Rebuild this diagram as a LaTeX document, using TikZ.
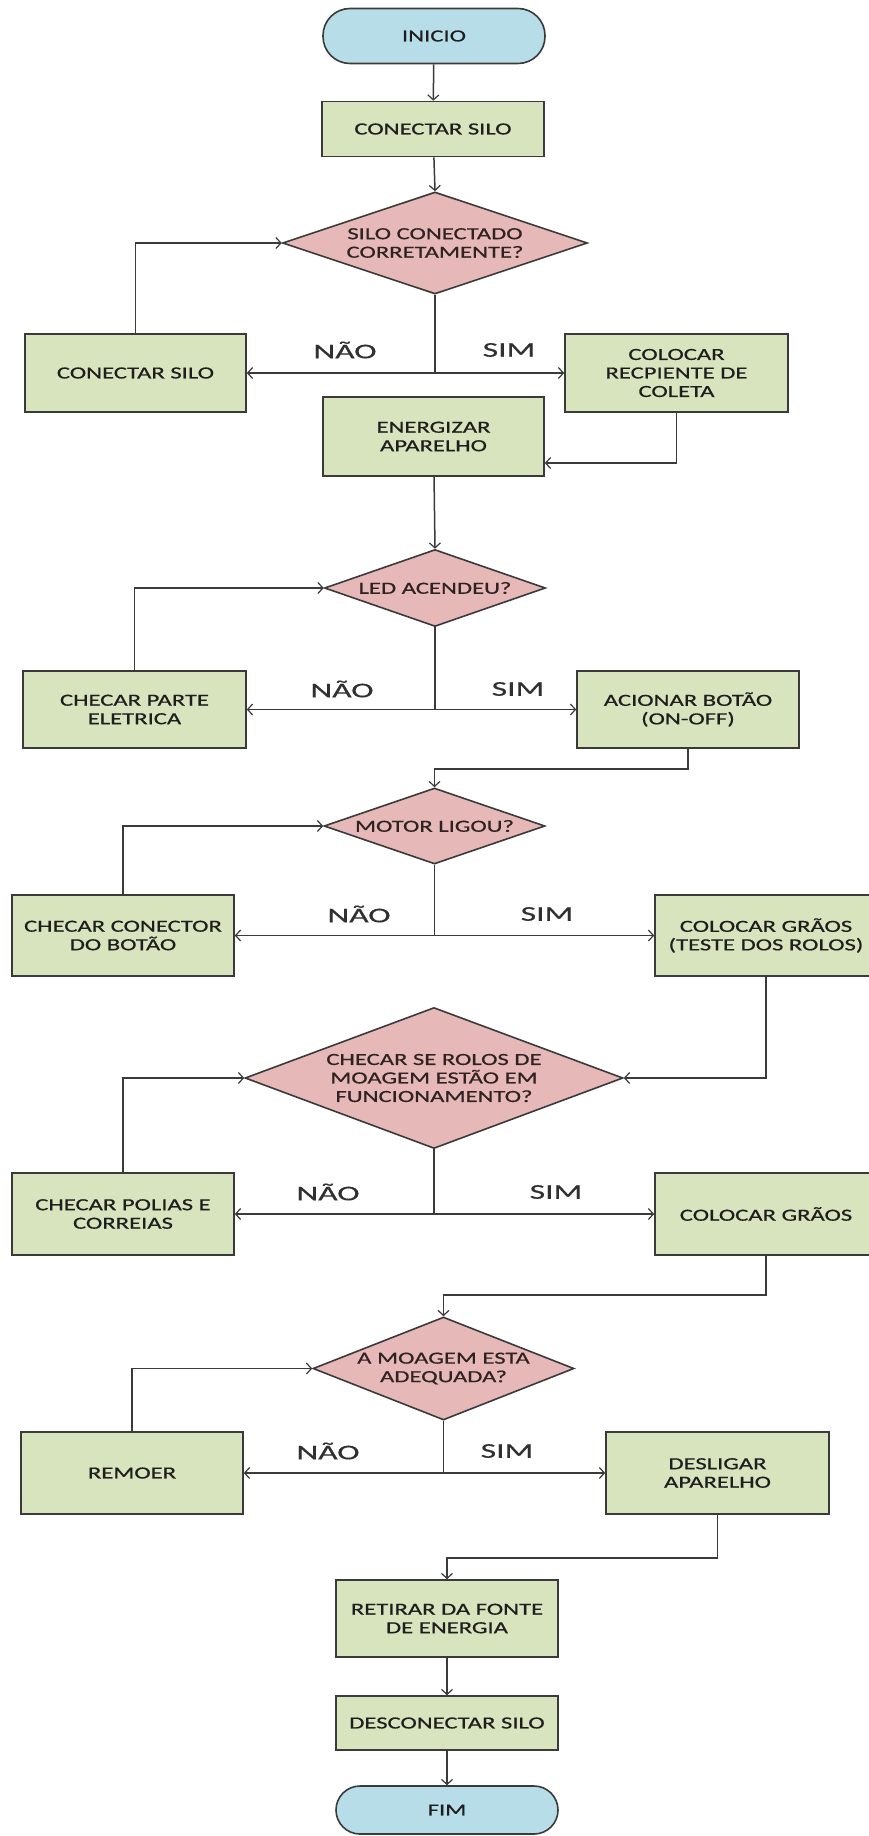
\documentclass[tikz,border=0pt]{standalone}
\usepackage{fontspec}
\setmainfont{Carlito}[FakeStretch=1.45,FakeBold=0.6]
\newfontfamily\lblfont{Carlito}[FakeStretch=1.6,FakeBold=0.4]
\usetikzlibrary{shapes.geometric,arrows.meta,calc}
\definecolor{boxfill}{HTML}{D7E4BD}
\definecolor{diafill}{HTML}{E6B9B8}
\definecolor{termfill}{HTML}{B7DEE8}
\definecolor{edgec}{HTML}{3A3A3A}
\definecolor{ink}{HTML}{1E1E1E}
\definecolor{dink}{HTML}{2E2222}
\definecolor{lblink}{HTML}{303030}
\begin{document}
\begin{tikzpicture}[x=1pt,y=-1pt,
  txt/.style={font=\fontsize{17}{18.5}\selectfont, text=ink, align=center},
  procbox/.style={txt, draw=edgec, line width=1.6pt, fill=boxfill, minimum width=222pt, inner sep=0pt},
  termbox/.style={txt, draw=edgec, line width=1.6pt, fill=termfill, minimum width=222pt, inner sep=0pt},
  decbox/.style={diamond, draw=edgec, line width=1.6pt, fill=diafill, inner sep=0pt},
  dtext/.style={txt, text=dink},
  yn/.style={font=\lblfont\fontsize{21}{23}\selectfont, text=lblink},
  conn/.style={draw=edgec, line width=1.5pt},
  arr/.style={conn, -{Straight Barb[length=5pt,width=11pt,line width=1.2pt]}},
]
\useasboundingbox (0,0) rectangle (869,1836);
\clip (0,0) rectangle (869,1836);
\fill[white] (0,0) rectangle (869,1836);

% main column
\node[termbox, minimum height=55pt, rounded corners=27pt] (ini) at (434,36) {INICIO};
\node[procbox, minimum height=55pt] (c1) at (433,129) {CONECTAR SILO};
\node[decbox, minimum width=305pt, minimum height=102pt] (d1) at (435,243) {};
\node[dtext] (d1t) at (d1.center) {SILO CONECTADO\\CORRETAMENTE?};
\node[procbox, minimum width=221pt, minimum height=78pt] (l1) at (135.5,373) {CONECTAR SILO};
\node[procbox, minimum width=223pt, minimum height=78pt] (r1) at (676.5,373) {COLOCAR\\RECPIENTE DE\\COLETA};
\node[procbox, minimum width=221pt, minimum height=79pt] (en) at (433.5,436.5) {ENERGIZAR\\APARELHO};
\node[decbox, minimum width=221pt, minimum height=77pt] (d2) at (435,588) {};
\node[dtext] (d2t) at (d2.center) {LED ACENDEU?};
\node[procbox, minimum width=223pt, minimum height=77pt] (l2) at (134.5,709.5) {CHECAR PARTE\\ELETRICA};
\node[procbox, minimum width=222pt, minimum height=77pt] (r2) at (688,709.5) {ACIONAR BOTÃO\\(ON-OFF)};
\node[decbox, minimum width=221pt, minimum height=76pt] (d3) at (434.5,826) {};
\node[dtext] (d3t) at (d3.center) {MOTOR LIGOU?};
\node[procbox, minimum width=222pt, minimum height=81pt] (l3) at (123,935.5) {CHECAR CONECTOR\\DO BOTÃO};
\node[procbox, minimum width=222pt, minimum height=81pt] (r3) at (766,935.5) {COLOCAR GRÃOS\\(TESTE DOS ROLOS)};
\node[decbox, minimum width=378pt, minimum height=141pt] (d4) at (434,1078) {};
\node[dtext] (d4t) at (d4.center) {CHECAR SE ROLOS DE\\MOAGEM ESTÃO EM\\FUNCIONAMENTO?};
\node[procbox, minimum width=222pt, minimum height=82pt] (l4) at (123,1214) {CHECAR POLIAS E\\CORREIAS};
\node[procbox, minimum width=222pt, minimum height=82pt] (r4) at (766,1214) {COLOCAR GRÃOS};
\node[decbox, minimum width=261pt, minimum height=103pt] (d5) at (443.5,1368.5) {};
\node[dtext] (d5t) at (d5.center) {A MOAGEM ESTA\\ADEQUADA?};
\node[procbox, minimum width=222pt, minimum height=82pt] (l5) at (132,1473) {REMOER};
\node[procbox, minimum width=223pt, minimum height=82pt] (r5) at (717.5,1473) {DESLIGAR\\APARELHO};
\node[procbox, minimum width=222pt, minimum height=77pt] (ret) at (447,1618.5) {RETIRAR DA FONTE\\DE ENERGIA};
\node[procbox, minimum width=222pt, minimum height=54pt] (des) at (447,1723) {DESCONECTAR SILO};
\node[termbox, minimum height=48pt, rounded corners=24pt] (fim) at (447,1810) {FIM};

% labels
\node[yn] (n1) at (345,350) {NÃO};
\node[yn] (s1) at (509,350) {SIM};
\node[yn] (n2) at (342,689) {NÃO};
\node[yn] (s2) at (518,689) {SIM};
\node[yn] (n3) at (359,914) {NÃO};
\node[yn] (s3) at (547,914) {SIM};
\node[yn] (n4) at (328,1192) {NÃO};
\node[yn] (s4) at (556,1192) {SIM};
\node[yn] (n5) at (328,1451) {NÃO};
\node[yn] (s5) at (507,1451) {SIM};

% branch points and bends
\coordinate (b1) at (d1.south |- l1.east);
\coordinate (b2) at (d2.south |- l2.east);
\coordinate (b3) at (d3.south |- l3.east);
\coordinate (b4) at (d4.south |- l4.east);
\coordinate (b5) at (d5.south |- l5.east);
\coordinate (k1) at (en.east |- 0,463);
\coordinate (k2) at (r2.south |- 0,769);
\coordinate (k4) at (r4.south |- 0,1295);
\coordinate (k5) at (r5.south |- 0,1558);

% connectors
\draw[arr] (ini) -- (c1);
\draw[arr] (c1) -- (d1.north);
\draw[conn] (d1.south) -- (b1);
\draw[arr] (b1) -- (l1.east);
\draw[arr] (b1) -- (r1.west);
\draw[arr] (l1.north) |- (d1.west);
\draw[arr] (r1.south) |- (k1);
\draw[arr] (en) -- (d2.north);
\draw[conn] (d2.south) -- (b2);
\draw[arr] (b2) -- (l2.east);
\draw[arr] (b2) -- (r2.west);
\draw[arr] (l2.north) |- (d2.west);
\draw[arr] (r2.south) -- (k2) -| (d3.north);
\draw[conn] (d3.south) -- (b3);
\draw[arr] (b3) -- (l3.east);
\draw[arr] (b3) -- (r3.west);
\draw[arr] (l3.north) |- (d3.west);
\draw[arr] (r3.south) |- (d4.east);
\draw[conn] (d4.south) -- (b4);
\draw[arr] (b4) -- (l4.east);
\draw[arr] (b4) -- (r4.west);
\draw[arr] (l4.north) |- (d4.west);
\draw[arr] (r4.south) -- (k4) -| (d5.north);
\draw[conn] (d5.south) -- (b5);
\draw[arr] (b5) -- (l5.east);
\draw[arr] (b5) -- (r5.west);
\draw[arr] (l5.north) |- (d5.west);
\draw[arr] (r5.south) -- (k5) -| (ret.north);
\draw[arr] (ret) -- (des);
\draw[arr] (des) -- (fim);
\end{tikzpicture}
\end{document}
